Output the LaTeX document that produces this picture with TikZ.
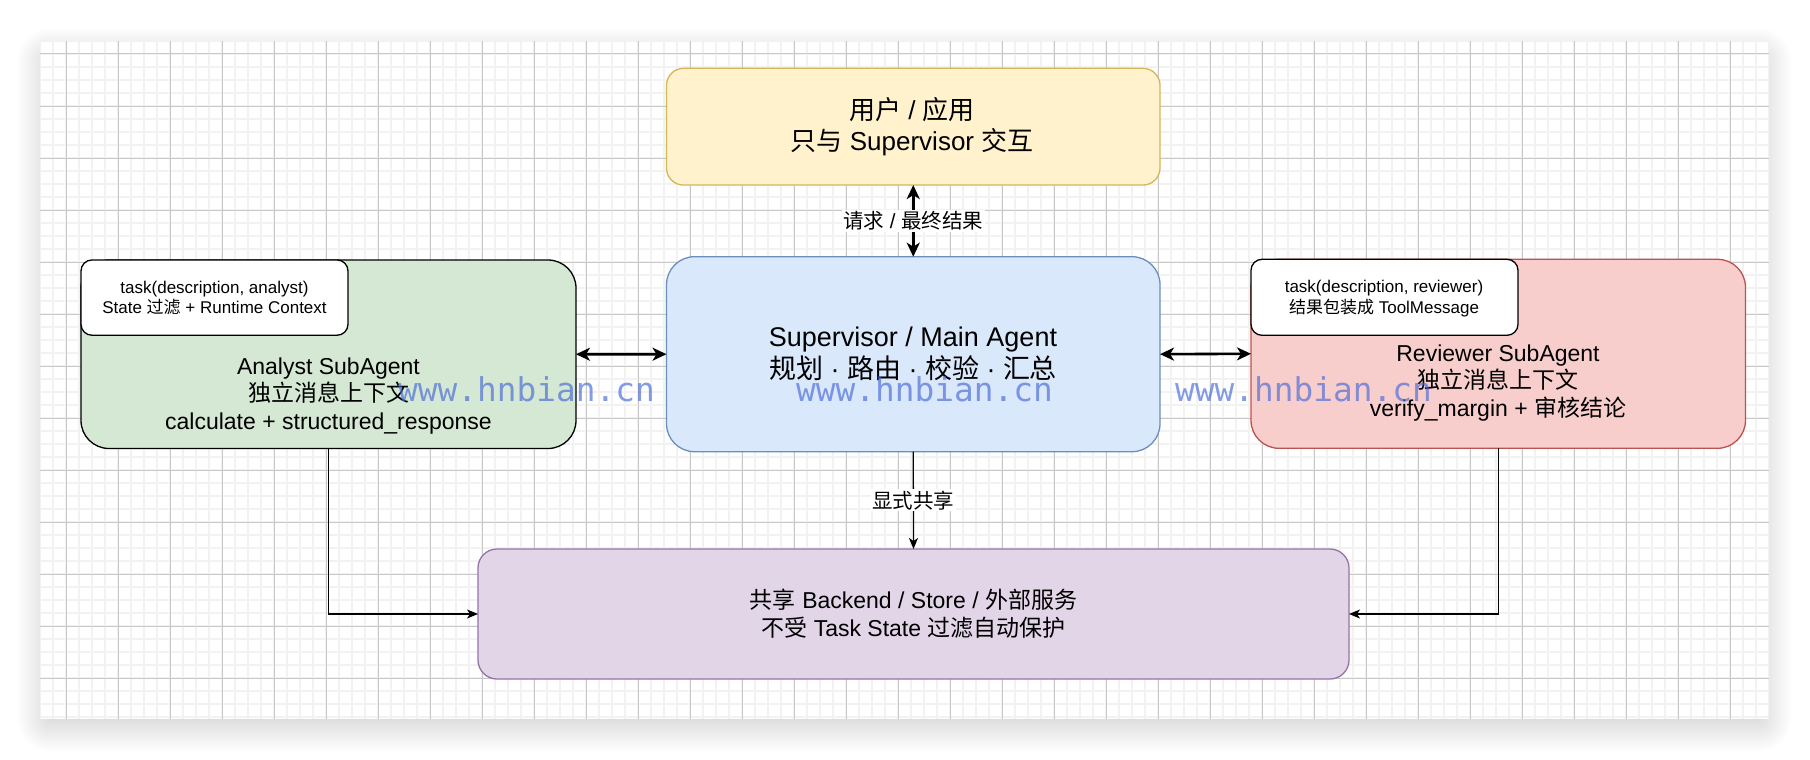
\documentclass[tikz,border=0pt]{standalone}
\usepackage{fontspec}
\setmainfont{Liberation Sans}
\newfontfamily\cjk{Noto Sans CJK SC}
\newfontfamily\wmfont{DejaVu Sans Mono}
\usetikzlibrary{arrows.meta}

\newcommand\zh[1]{{\cjk #1}}

\definecolor{gridminor}{HTML}{F2F2F2}
\definecolor{gridmajor}{HTML}{C8C8C8}
\definecolor{userfill}{HTML}{FFF2CC}\definecolor{userdraw}{HTML}{D6B656}
\definecolor{supfill}{HTML}{DAE8FC}\definecolor{supdraw}{HTML}{6C8EBF}
\definecolor{anafill}{HTML}{D5E8D4}
\definecolor{revfill}{HTML}{F8CECC}\definecolor{revdraw}{HTML}{B85450}
\definecolor{shfill}{HTML}{E1D5E7}\definecolor{shdraw}{HTML}{9673A6}
\definecolor{wmblue}{RGB}{70,105,215}

\tikzset{
  box/.style={rectangle, line width=1.3pt, inner sep=0pt, outer sep=0pt},
  txt/.style={align=center, inner sep=0pt, text=black},
  bigtxt/.style={txt, font=\fontsize{27}{32.4}\selectfont},
  midtxt/.style={txt, font=\fontsize{23}{27.6}\selectfont},
  smalltxt/.style={txt, font=\fontsize{17}{20.4}\selectfont},
  edgelabel/.style={fill=white, inner sep=1.5pt, font=\fontsize{20.5}{24}\selectfont},
  thick link/.style={line width=2.6pt, {Stealth[length=14pt,width=13pt,inset=4pt]}-{Stealth[length=14pt,width=13pt,inset=4pt]}},
  thin link/.style={line width=1.3pt, -{Stealth[length=11pt,width=9pt,inset=3pt]}},
  wm/.style={anchor=base west, inner sep=0pt, text=wmblue, text opacity=0.66,
             font=\wmfont\fontsize{32.8}{36}\selectfont},
}

\begin{document}
\begin{tikzpicture}[x=1pt, y=-1pt]
\useasboundingbox (0,0) rectangle (1810,760);
\fill[white] (0,0) rectangle (1810,760);

% soft drop shadow of the canvas panel, built from stacked translucent layers
\foreach \e in {-10,...,40} {
  \pgfmathsetmacro\op{0.000125*(40-\e)}
  \pgfmathsetmacro\rc{max(\e+10,0.1)}
  \fill[black, opacity=\op, rounded corners=\rc pt]
    (40-\e,51-\e) rectangle (1769+\e,729+\e);
}
\fill[white] (40,41) rectangle (1769,719);

% canvas grid
\begin{scope}
  \clip (40,41) rectangle (1769,719);
  \foreach \x in {40,53,...,1769} \draw[gridminor, line width=1.5pt] (\x,41) -- (\x,719);
  \foreach \y in {41,54,...,719} \draw[gridminor, line width=1.5pt] (40,\y) -- (1769,\y);
  \foreach \x in {66,118,...,1769} \draw[gridmajor, line width=1pt] (\x,41) -- (\x,719);
  \foreach \y in {54,106,...,719} \draw[gridmajor, line width=1pt] (40,\y) -- (1769,\y);
\end{scope}

% boxes
\node[box, fill=userfill, draw=userdraw, rounded corners=17pt,
      minimum width=493.5pt, minimum height=116.7pt] (user) at (913.25,126.7) {};
\node[box, fill=supfill, draw=supdraw, rounded corners=28pt,
      minimum width=493.5pt, minimum height=195pt] (sup) at (913.25,354.2) {};
\node[box, fill=anafill, draw=black, rounded corners=28pt,
      minimum width=495pt, minimum height=188.5pt] (ana) at (328.5,354.25) {};
\node[box, fill=white, draw=black, rounded corners=11pt,
      minimum width=267pt, minimum height=75.3pt] (anatask) at (214.5,297.6) {};
\node[box, fill=revfill, draw=revdraw, rounded corners=28pt,
      minimum width=494.5pt, minimum height=189pt] (rev) at (1498.25,353.8) {};
\node[box, fill=white, draw=black, rounded corners=11pt,
      minimum width=267pt, minimum height=76pt] (revtask) at (1384.5,297.3) {};
\node[box, fill=shfill, draw=shdraw, rounded corners=19pt,
      minimum width=871pt, minimum height=130pt] (shared) at (913.5,614) {};

% box texts
\node[bigtxt, font=\fontsize{26}{31.2}\selectfont] (usertext) at (912,126.4)
  {\zh{用户} / \zh{应用}\\\zh{只与} Supervisor \zh{交互}};
\node[bigtxt] (suptext) at (913,354)
  {Supervisor / Main Agent\\\zh{规划} · \zh{路由} · \zh{校验} · \zh{汇总}};
\node[smalltxt] (anatasktext) at (214.5,298)
  {task(description, analyst)\\State \zh{过滤} + Runtime Context};
\node[midtxt] (anatext) at (328.5,396)
  {Analyst SubAgent\\\zh{独立消息上下文}\\calculate + structured\_response};
\node[smalltxt] (revtasktext) at (1384,298.6)
  {task(description, reviewer)\\\zh{结果包装成} ToolMessage};
\node[midtxt] (revtext) at (1498,382.8)
  {Reviewer SubAgent\\\zh{独立消息上下文}\\verify\_margin + \zh{审核结论}};
\node[midtxt] (sharedtext) at (913.5,614)
  {\zh{共享} Backend / Store / \zh{外部服务}\\\zh{不受} Task State \zh{过滤自动保护}};

% connectors
\draw[thick link] (user.south) -- node[edgelabel] {\zh{请求} / \zh{最终结果}} (sup.north);
\draw[thick link] (ana.east) -- (sup.west);
\draw[thick link] (sup.east) -- (rev.west);
\draw[thin link] (sup.south) -- node[edgelabel] {\zh{显式共享}} (shared.north);
\draw[thin link] (ana.south) |- (shared.west);
\draw[thin link] (rev.south) |- (shared.east);

% watermark text
\node[wm] (wm1) at (398,401.7) {www.hnbian.cn};
\node[wm] (wm2) at (796,401.7) {www.hnbian.cn};
\node[wm] (wm3) at (1175,401.7) {www.hnbian.cn};
\end{tikzpicture}
\end{document}
